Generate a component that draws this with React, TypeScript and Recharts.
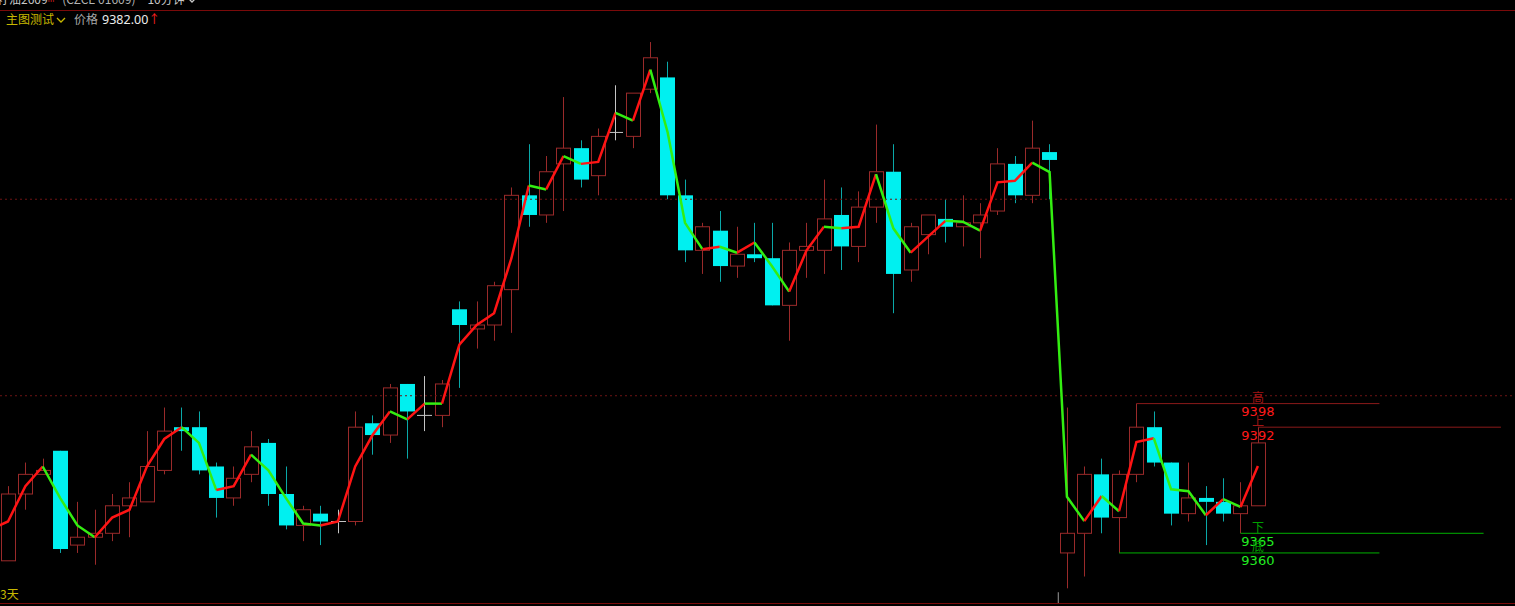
import { ComposedChart, Bar, Line, Scatter, XAxis, YAxis, ReferenceLine } from "recharts";

// 10-minute candles, prior session (0..60) + current session (61..72)
const opens = [
  9358, 9375, 9380, 9386, 9362, 9364, 9365, 9372, 9373, 9381, 9392, 9392, 9382, 9374, 9380, 9388, 9375, 9367, 9370, 9368,
  9368, 9393, 9390, 9403, 9395, 9395, 9422, 9417, 9418, 9427, 9451, 9446, 9459, 9463, 9456, 9467, 9466, 9478, 9481, 9451,
  9437, 9442, 9433, 9436, 9435, 9423, 9437, 9437, 9446, 9438, 9448, 9457, 9432, 9441, 9445, 9443, 9444, 9447, 9459, 9451,
  9462, 9360, 9365, 9380, 9369, 9380, 9392, 9383, 9370, 9374, 9373, 9370, 9372,
];
const highs = [
  9377, 9383, 9384, 9386, 9373, 9371, 9375, 9378, 9391, 9397, 9397, 9396, 9383, 9382, 9391, 9389, 9382, 9372, 9372, 9371,
  9396, 9395, 9403, 9403, 9405, 9404, 9424, 9424, 9429, 9453, 9464, 9461, 9476, 9465, 9468, 9479, 9477, 9490, 9485, 9455,
  9444, 9447, 9443, 9444, 9444, 9439, 9444, 9455, 9453, 9452, 9469, 9464, 9444, 9446, 9450, 9451, 9449, 9463, 9461, 9470,
  9464, 9397, 9382, 9384, 9381, 9398, 9396, 9383, 9383, 9377, 9379, 9378, 9392,
];
const lows = [
  9358, 9371, 9380, 9360, 9360, 9357, 9363, 9364, 9373, 9380, 9386, 9380, 9369, 9372, 9378, 9372, 9366, 9363, 9362, 9365,
  9367, 9385, 9388, 9384, 9391, 9392, 9402, 9412, 9414, 9416, 9443, 9444, 9447, 9453, 9451, 9465, 9463, 9477, 9450, 9434,
  9431, 9429, 9430, 9434, 9423, 9414, 9430, 9431, 9432, 9434, 9444, 9421, 9429, 9436, 9439, 9438, 9435, 9446, 9449, 9449,
  9450, 9351, 9354, 9365, 9360, 9378, 9382, 9367, 9368, 9362, 9368, 9365, 9372,
];
const closes = [
  9375, 9380, 9381, 9361, 9364, 9365, 9372, 9374, 9382, 9391, 9391, 9381, 9374, 9379, 9387, 9375, 9367, 9371, 9368, 9368,
  9392, 9390, 9402, 9396, 9395, 9403, 9418, 9418, 9428, 9451, 9446, 9457, 9463, 9455, 9466, 9467, 9477, 9486, 9451, 9437,
  9443, 9433, 9436, 9435, 9423, 9437, 9438, 9445, 9438, 9448, 9457, 9431, 9443, 9446, 9443, 9444, 9446, 9459, 9451, 9463,
  9460, 9365, 9380, 9369, 9380, 9392, 9383, 9370, 9374, 9373, 9370, 9372, 9388,
];
// indicator line, red when rising, green otherwise
const trendLine = [
  9368, 9377, 9382, 9374, 9367, 9364, 9369, 9371, 9382, 9389, 9392, 9388, 9376, 9377, 9385, 9381, 9374, 9367.5, 9367, 9368,
  9382, 9390, 9396, 9394, 9398, 9398, 9413, 9418, 9421, 9435, 9453.5, 9452.5, 9461, 9459, 9459.5, 9472, 9470, 9483, 9467, 9444,
  9437.3, 9437.9, 9436.4, 9439, 9433, 9426.5, 9437, 9443, 9442.6, 9443, 9456.4, 9442.6, 9436.4, 9440.5, 9444.5, 9444.3, 9442, 9454.3, 9454.7, 9459.3,
  9456.9, 9374.3, 9368.1, 9374.5, 9370.6, 9388.2, 9389.2, 9376.2, 9375.7, 9369.6, 9373.7, 9371.7, 9382.1,
];
const trendBefore = 9366; // value one bar left of the screen

const levels = [
  { name: "高", price: 9398, from: 65, to: 79, up: true },
  { name: "上", price: 9392, from: 72, to: 86, up: true },
  { name: "下", price: 9365, from: 71, to: 85, up: false },
  { name: "底", price: 9360, from: 64, to: 79, up: false },
];
const gridPrices = [9450, 9400];

const UP = "#9a2a2a";
const DOWN = "#00f0f0";
const DOWN_WICK = "#0aa8a8";
const DOJI = "#c4c4c4";
const RED = "#ff1414";
const GREEN = "#33ee11";

const linePts = [trendBefore, ...trendLine];
const runs: { start: number; end: number; rising: boolean }[] = [];
for (let k = 1; k < linePts.length; k++) {
  const rising = linePts[k] > linePts[k - 1];
  const last = runs[runs.length - 1];
  if (last && last.rising === rising) last.end = k;
  else runs.push({ start: k - 1, end: k, rising });
}

const rows = linePts.map((v, k) => {
  const i = k - 1;
  const row: any = { x: i };
  if (i >= 0) {
    row.open = opens[i];
    row.high = highs[i];
    row.low = lows[i];
    row.close = closes[i];
    row.range = [lows[i], highs[i]];
  }
  runs.forEach((r, j) => {
    if (k >= r.start && k <= r.end) row["s" + j] = v;
  });
  return row;
});

const lastIdx = opens.length - 1;
const labelPts = levels.map((l) => ({ x: lastIdx, y: l.price, name: l.name, up: l.up }));

const Candle = (props: any) => {
  const { x, y, width, height, payload } = props;
  if (payload == null || payload.open == null) return null;
  const { open, close, high, low } = payload;
  const top0 = Math.min(y, y + height);
  const h = Math.abs(height);
  const cx = Math.round(x + width / 2) + 0.5;
  const k = high === low ? 0 : h / (high - low);
  const py = (v: number) => top0 + (high - v) * k;
  const bTop = py(Math.max(open, close));
  const bBot = py(Math.min(open, close));
  if (open === close) {
    return (
      <g>
        <line x1={cx} x2={cx} y1={py(high)} y2={py(low)} stroke={DOJI} strokeWidth={1} />
        <line x1={cx - 7.5} x2={cx + 7.5} y1={bTop} y2={bTop} stroke={DOJI} strokeWidth={1} />
      </g>
    );
  }
  if (close > open) {
    return (
      <g>
        <line x1={cx} x2={cx} y1={py(high)} y2={bTop} stroke={UP} strokeWidth={1} />
        <line x1={cx} x2={cx} y1={bBot} y2={py(low)} stroke={UP} strokeWidth={1} />
        <rect x={cx - 7} y={bTop} width={14} height={Math.max(bBot - bTop, 1)} fill="none" stroke={UP} strokeWidth={1} />
      </g>
    );
  }
  return (
    <g>
      <line x1={cx} x2={cx} y1={py(high)} y2={py(low)} stroke={DOWN_WICK} strokeWidth={1} />
      <rect x={cx - 7.5} y={bTop} width={15} height={Math.max(bBot - bTop, 2)} fill={DOWN} />
    </g>
  );
};

const LevelLabel = (props: any) => {
  const { cx, cy, payload } = props;
  const up = payload.up;
  return (
    <g>
      <text x={cx} y={cy - 7} textAnchor="middle" dominantBaseline="central" fontSize={12}
        fontFamily='"Noto Sans CJK SC", sans-serif' fill={up ? "#a01414" : "#00a000"}>
        {payload.name}
      </text>
      <text x={cx} y={cy + 8} textAnchor="middle" dominantBaseline="central" fontSize={13}
        fontFamily='"DejaVu Sans", sans-serif' fill={up ? "#ff1a1a" : "#22ee22"}>
        {payload.y}
      </text>
    </g>
  );
};

const Chevron = ({ color }: { color: string }) => (
  <svg width="10" height="7" style={{ display: "inline-block", verticalAlign: "middle", marginLeft: 2 }}>
    <polyline points="1,1 5,5 9,1" fill="none" stroke={color} strokeWidth="1.3" />
  </svg>
);

export default function App() {
  const cjk = '"Noto Sans CJK SC", "Noto Sans", sans-serif';
  return (
    <div style={{ position: "absolute", left: 0, top: 0, width: 1515, height: 606, background: "#000", overflow: "hidden", fontFamily: cjk }}>
      <ComposedChart width={1515} height={606} data={rows} margin={{ top: 0, right: 0, bottom: 0, left: 0 }}>
        <XAxis dataKey="x" type="number" domain={[-0.461, 86.81]} allowDataOverflow hide />
        <YAxis type="number" domain={[9346.5, 9500.7]} allowDataOverflow hide />
        {gridPrices.map((p) => (
          <ReferenceLine key={p} y={p} stroke="#6e1414" strokeDasharray="2 3" />
        ))}
        {levels.map((l) => (
          <ReferenceLine key={l.name} segment={[{ x: l.from, y: l.price }, { x: l.to, y: l.price }]}
            stroke={l.up ? "#8a1a1a" : "#00b000"} strokeWidth={1} />
        ))}
        <ReferenceLine segment={[{ x: 60.5, y: 9350 }, { x: 60.5, y: 9347 }]} stroke="#9a9a9a" />
        <Bar dataKey="range" barSize={15} shape={<Candle />} isAnimationActive={false} />
        {runs.map((r, j) => (
          <Line key={j} dataKey={"s" + j} type="linear" stroke={r.rising ? RED : GREEN} strokeWidth={2.5}
            dot={false} activeDot={false} connectNulls={false} isAnimationActive={false} />
        ))}
        <Scatter data={labelPts} dataKey="y" shape={<LevelLabel />} isAnimationActive={false} />
      </ComposedChart>

      {/* header */}
      <div style={{ position: "absolute", left: 0, top: 10, width: 1515, height: 1, background: "#7a0a0a" }} />
      <div style={{ position: "absolute", left: -3, top: -9, height: 16, lineHeight: "16px", fontSize: 12, color: "#c8c8c8", whiteSpace: "nowrap" }}>
        籽油2609<span style={{ color: "#e02020", fontSize: 7, verticalAlign: "top" }}>m</span>
        <span style={{ marginLeft: 8, color: "#b4b4b4" }}>(CZCE 01609)</span>
        <span style={{ marginLeft: 12, color: "#c8c8c8" }}>10分钟</span>
        <Chevron color="#c8c8c8" />
      </div>
      <div style={{ position: "absolute", left: 6, top: 11, height: 16, lineHeight: "16px", fontSize: 12, whiteSpace: "nowrap" }}>
        <span style={{ color: "#c8b800" }}>主图测试</span>
        <Chevron color="#c8b800" />
        <span style={{ marginLeft: 8, color: "#a8a8a8" }}>价格</span>
        <span style={{ marginLeft: 4, color: "#ececec", fontFamily: '"Noto Sans", sans-serif', fontSize: 12.5 }}>9382.00</span>
        <span style={{ color: "#ff2020" }}>↑</span>
      </div>

      {/* footer */}
      <div style={{ position: "absolute", left: 0, top: 603, width: 1515, height: 1, background: "#7a0a0a" }} />
      <div style={{ position: "absolute", left: 0, top: 586, height: 16, lineHeight: "16px", fontSize: 12, color: "#c8b800", whiteSpace: "nowrap" }}>
        3天
      </div>
    </div>
  );
}
